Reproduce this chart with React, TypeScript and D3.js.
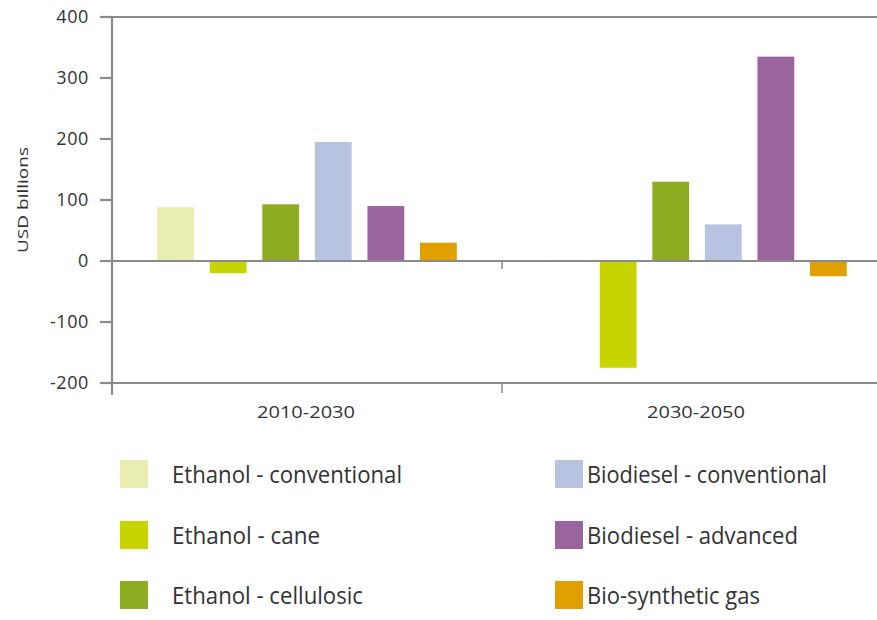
import React from "react";
import * as d3 from "d3";

// Change in investment by biofuel type and period (USD billions)
const periods = ["2010-2030", "2030-2050"];
const seriesNames = [
  "Ethanol - conventional",
  "Ethanol - cane",
  "Ethanol - cellulosic",
  "Biodiesel - conventional",
  "Biodiesel - advanced",
  "Bio-synthetic gas",
];
const values2010_2030 = [88, -20, 93, 195, 90, 30];
const values2030_2050 = [2, -175, 130, 60, 335, -25];
const seriesColors = ["#eaedb0", "#c8d400", "#8fad23", "#b7c3e0", "#9a649e", "#e1a000"];
const yTicks = [400, 300, 200, 100, 0, -100, -200];

const W = 877;
const H = 620;
const FONT = "'Liberation Sans Narrow', 'Open Sans', sans-serif";
const AXIS = "#8a8a8a";
const TEXT = "#333";

export default function App() {
  const rows = [values2010_2030, values2030_2050];

  const y = d3.scaleLinear().domain([-200, 400]).range([383, 17]);
  const x0 = d3.scaleBand<string>().domain(periods).range([112, 892]).padding(0);
  const x1 = d3
    .scaleBand<string>()
    .domain(seriesNames)
    .range([0, x0.bandwidth()])
    .paddingInner(0.3)
    .paddingOuter(0.86);

  const left = 112;
  const legendRows = [474, 535, 595];
  const legendCols = [120, 555];
  const legendTextWidths = [230, 148, 191, 240, 211, 173];

  return (
    <svg
      width={W}
      height={H}
      style={{ position: "absolute", left: 0, top: 0, background: "#fff" }}
      fontFamily={FONT}
    >
      {/* bars */}
      {periods.map((p, pi) => (
        <g key={p} transform={`translate(${x0(p)},0)`}>
          {seriesNames.map((s, si) => {
            const v = rows[pi][si];
            return (
              <rect
                key={s}
                x={x1(s)}
                y={Math.min(y(v), y(0))}
                width={x1.bandwidth()}
                height={Math.abs(y(v) - y(0))}
                fill={seriesColors[si]}
              />
            );
          })}
        </g>
      ))}

      {/* frame lines */}
      <line x1={100} x2={W} y1={y(400)} y2={y(400)} stroke={AXIS} strokeWidth={2.2} />
      <line x1={100} x2={W} y1={y(0)} y2={y(0)} stroke={AXIS} strokeWidth={2.2} />
      <line x1={100} x2={W} y1={y(-200)} y2={y(-200)} stroke={AXIS} strokeWidth={2.2} />
      <line x1={left} x2={left} y1={y(400)} y2={395} stroke={AXIS} strokeWidth={2.2} />

      {/* y ticks and labels */}
      {yTicks.map((t) => (
        <g key={t}>
          <line x1={100} x2={left} y1={y(t)} y2={y(t)} stroke={AXIS} strokeWidth={2.2} />
          <text
            x={89}
            y={y(t)}
            dy="0.35em"
            textAnchor="end"
            fontSize={18}
            fill={TEXT}
            letterSpacing={0.6}
          >
            {t}
          </text>
        </g>
      ))}

      {/* category divider ticks */}
      {periods.slice(1).map((p) => (
        <g key={p}>
          <line x1={x0(p)} x2={x0(p)} y1={y(0)} y2={y(0) + 8} stroke={AXIS} strokeWidth={1.5} />
          <line x1={x0(p)} x2={x0(p)} y1={y(-200)} y2={y(-200) + 10} stroke={AXIS} strokeWidth={1.5} />
        </g>
      ))}

      {/* category labels */}
      {periods.map((p) => (
        <text
          key={p}
          x={(x0(p) as number) + x0.bandwidth() / 2 - 1}
          y={418}
          textAnchor="middle"
          fontSize={17}
          fill={TEXT}
          textLength={98}
          lengthAdjust="spacingAndGlyphs"
        >
          {p}
        </text>
      ))}

      {/* y axis title */}
      <text
        transform="translate(28,200) rotate(-90)"
        textAnchor="middle"
        fontSize={15}
        fill={TEXT}
        textLength={106}
        lengthAdjust="spacingAndGlyphs"
      >
        USD billions
      </text>

      {/* legend */}
      {seriesNames.map((s, i) => {
        const col = Math.floor(i / 3);
        const row = i % 3;
        const lx = legendCols[col];
        const ly = legendRows[row];
        return (
          <g key={s}>
            <rect x={lx} y={ly - 14} width={28} height={28} fill={seriesColors[i]} />
            <text
              x={lx + (col === 0 ? 52 : 32)}
              y={ly + 9}
              fontSize={24}
              fill={TEXT}
              textLength={legendTextWidths[i]}
              lengthAdjust="spacingAndGlyphs"
            >
              {s}
            </text>
          </g>
        );
      })}
    </svg>
  );
}
